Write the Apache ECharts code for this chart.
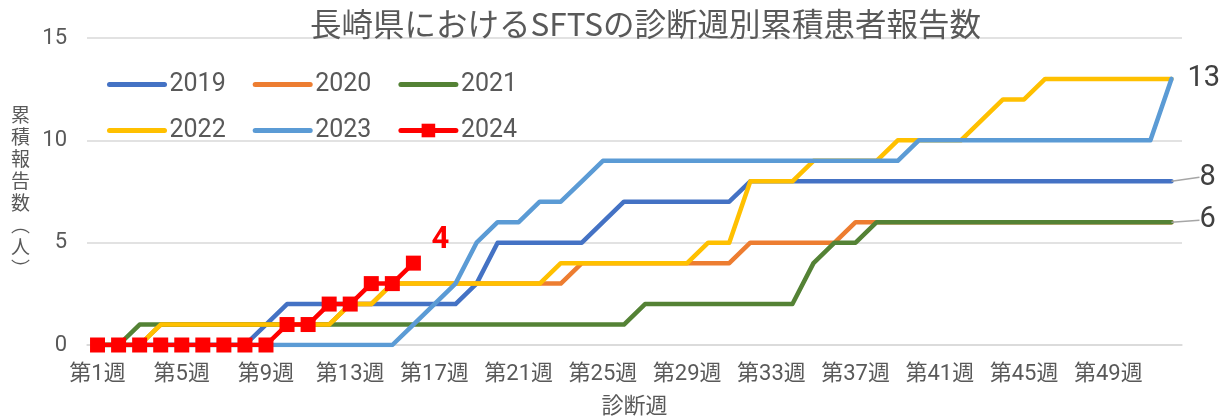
<!DOCTYPE html>
<html>
<head>
<meta charset="utf-8">
<script src="https://cdn.jsdelivr.net/npm/echarts@6/dist/echarts.min.js"></script>
<style>
html,body{margin:0;padding:0;background:#fff;}
#chart{width:1224px;height:416px;}
</style>
</head>
<body>
<div id="chart"></div>
<script>
const weeks = [];
for (let i = 1; i <= 52; i++) weeks.push('第' + i + '週');
const seriesNames = ['2019', '2020', '2021', '2022', '2023', '2024'];
const y2019 = [0,0,0,0,0,0,0,0,1,2,2,2,2,2,2,2,2,2,3,5,5,5,5,5,6,7,7,7,7,7,7,8,8,8,8,8,8,8,8,8,8,8,8,8,8,8,8,8,8,8,8,8];
const y2020 = [0,0,0,1,1,1,1,1,1,1,1,1,2,2,3,3,3,3,3,3,3,3,3,4,4,4,4,4,4,4,4,5,5,5,5,5,6,6,6,6,6,6,6,6,6,6,6,6,6,6,6,6];
const y2021 = [0,0,1,1,1,1,1,1,1,1,1,1,1,1,1,1,1,1,1,1,1,1,1,1,1,1,2,2,2,2,2,2,2,2,4,5,5,6,6,6,6,6,6,6,6,6,6,6,6,6,6,6];
const y2022 = [0,0,0,1,1,1,1,1,1,1,1,1,2,2,3,3,3,3,3,3,3,3,4,4,4,4,4,4,4,5,5,8,8,8,9,9,9,9,10,10,10,10,11,12,12,13,13,13,13,13,13,13];
const y2023 = [0,0,0,0,0,0,0,0,0,0,0,0,0,0,0,1,2,3,5,6,6,7,7,8,9,9,9,9,9,9,9,9,9,9,9,9,9,9,9,10,10,10,10,10,10,10,10,10,10,10,10,13];
const y2024 = [0,0,0,0,0,0,0,0,0,1,1,2,2,3,3,4];
const yTicks = [0, 5, 10, 15];
const colors = ['#4472C4', '#ED7D31', '#548235', '#FFC000', '#5B9BD5', '#FF0000'];

const txt = '#595959';
const latin = 'Roboto, "Noto Sans CJK JP", sans-serif';
const cjk = '"Noto Sans CJK JP", Roboto, sans-serif';

function withEndLabel(arr, labelOpt) {
  return arr.map((v, i) => i === arr.length - 1 ? { value: v, label: Object.assign({ show: true }, labelOpt) } : v);
}
const endLabelStyle = { position: 'right', distance: 24, color: '#404040', fontSize: 29, fontFamily: latin, formatter: '{c}' };

function lineSeries(name, data, idx, extra) {
  return Object.assign({
    name: name,
    type: 'line',
    data: data,
    symbol: 'circle',
    symbolSize: 0,
    showSymbol: true,
    showAllSymbol: true,
    label: { show: false },
    lineStyle: { width: 4.5, color: colors[idx], cap: 'round', join: 'round' },
    itemStyle: { color: colors[idx] },
    z: 2 + idx
  }, extra || {});
}

function legendItems(names) {
  return names.map(n => n === '2024' ? { name: n } : { name: n, itemStyle: { opacity: 0 } });
}
const legendBase = { left: 102, padding: 5, itemWidth: 55, itemHeight: 17, itemGap: 27,
  lineStyle: { width: 5, cap: 'round' },
  textStyle: { fontFamily: latin, fontSize: 25, color: txt } };

const chart = echarts.init(document.getElementById('chart'), null, { renderer: 'canvas' });
chart.setOption({
  animation: false,
  backgroundColor: '#fff',
  title: {
    text: '長崎県におけるSFTSの診断週別累積患者報告数',
    left: 305, top: 3,
    textStyle: { fontFamily: cjk, fontSize: 31.5, fontWeight: 'normal', color: txt }
  },
  legend: [
    Object.assign({ data: legendItems(seriesNames.slice(0, 3)), top: 67 }, legendBase),
    Object.assign({ data: legendItems(seriesNames.slice(3)), top: 113 }, legendBase)
  ],
  grid: { left: 87, right: 42, top: 38, bottom: 71, outerBoundsMode: 'none' },
  xAxis: {
    type: 'category',
    data: weeks,
    boundaryGap: true,
    name: '診断週',
    nameLocation: 'middle',
    nameGap: 49,
    nameTextStyle: { fontFamily: cjk, fontSize: 22, color: txt },
    axisLine: { show: true, lineStyle: { color: '#d9d9d9', width: 1.5 } },
    axisTick: { show: false },
    axisLabel: { interval: 3, margin: 18, fontFamily: latin, fontSize: 22, color: txt }
  },
  yAxis: {
    type: 'value',
    min: 0, max: 15, interval: 5,
    name: '累\n積\n報\n告\n数\n︵\n人\n︶',
    nameLocation: 'middle',
    nameRotate: 0,
    nameGap: 57,
    nameTextStyle: { fontFamily: cjk, fontSize: 19, lineHeight: 22, color: txt, padding: [12, 0, 0, 0] },
    axisLine: { show: false },
    axisTick: { show: false },
    splitLine: { lineStyle: { color: '#d9d9d9', width: 1.5 } },
    axisLabel: { margin: 20, fontFamily: latin, fontSize: 22, color: txt,
      formatter: v => yTicks.indexOf(v) >= 0 ? String(v) : '' }
  },
  series: [
    lineSeries('2019', withEndLabel(y2019, endLabelStyle), 0, {
      labelLine: { show: true, length2: 0, lineStyle: { color: '#a6a6a6', width: 1.5 } },
      labelLayout: { dx: 4, dy: -4 }
    }),
    lineSeries('2020', y2020, 1),
    lineSeries('2021', withEndLabel(y2021, endLabelStyle), 2, {
      labelLine: { show: true, length2: 0, lineStyle: { color: '#a6a6a6', width: 1.5 } },
      labelLayout: { dx: 4, dy: -2 }
    }),
    lineSeries('2022', y2022, 3),
    lineSeries('2023', withEndLabel(y2023, Object.assign({}, endLabelStyle, { distance: 16 })), 4),
    lineSeries('2024', withEndLabel(y2024, { position: 'top', distance: 0, offset: [27, 0], color: '#FF0000', fontSize: 31, fontWeight: 'bold', fontFamily: latin, formatter: '{c}' }), 5, {
      symbol: 'rect', symbolSize: 15
    })
  ]
});
</script>
</body>
</html>
